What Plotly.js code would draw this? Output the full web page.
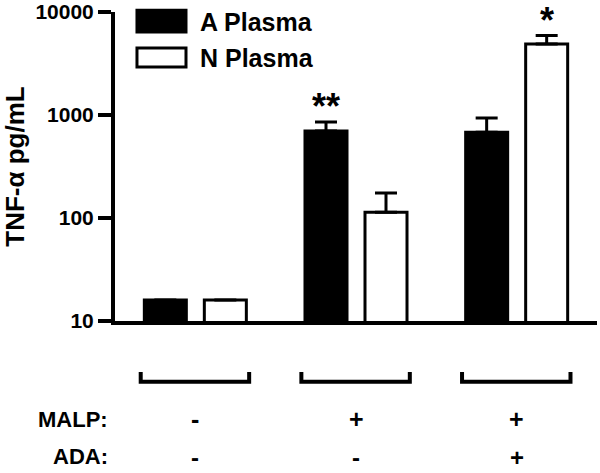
<!DOCTYPE html>
<html>
<head>
<meta charset="utf-8">
<script src="https://cdn.plot.ly/plotly-3.0.1.min.js"></script>
<style>
  html, body { margin: 0; padding: 0; background: #fff; }
  #chart { width: 600px; height: 473px; }
</style>
</head>
<body>
<div id="chart"></div>
<script>
// group index on x, one bar pair per condition
const groups = [0, 1, 2];
const malpLabels = ["-", "+", "+"];
const adaLabels = ["-", "-", "+"];

const seriesNames = ["A Plasma", "N Plasma"];
const aPlasma = [16, 700, 680];
const aPlasmaErr = [null, 155, 255];
const nPlasma = [16, 114, 4900];
const nPlasmaErr = [null, 61, 1000];

// significance marks: [series index, group index, text]
const stars = [
  [0, 1, "**"],
  [1, 2, "*"],
];

const yTickVals = [10, 100, 1000, 10000];
const yTickText = ["10", "100", "1000", "10000"];

const FONT = "Liberation Sans, Arial, Helvetica, sans-serif";
const BARGAP = 0.253;
const BARGROUPGAP = 0.30;
const half = (1 - BARGAP) / 4; // centre offset of each bar in a group

const bold = (size) => ({ family: FONT, size, color: "#000", weight: "bold" });

const errStyle = (arr) => ({
  type: "data",
  symmetric: false,
  array: arr,
  arrayminus: arr.map(() => 0),
  color: "#000",
  thickness: 3,
  width: 11,
});

const traces = [
  {
    x: groups, y: aPlasma, type: "bar", name: seriesNames[0],
    marker: { color: "#000", line: { color: "#000", width: 3 } },
    error_y: errStyle(aPlasmaErr),
  },
  {
    x: groups, y: nPlasma, type: "bar", name: seriesNames[1],
    marker: { color: "#fff", line: { color: "#000", width: 3 } },
    error_y: errStyle(nPlasmaErr),
  },
];

const annotations = [];
const shapes = [];

// asterisks above error caps
const vals = [aPlasma, nPlasma];
const errs = [aPlasmaErr, nPlasmaErr];
stars.forEach(([s, g, txt]) => {
  annotations.push({
    x: groups[g] + (s === 0 ? -half : half),
    y: Math.log10(vals[s][g] + (errs[s][g] || 0)),
    xref: "x", yref: "y", text: txt, showarrow: false,
    yanchor: "bottom", yshift: -7, font: bold(36),
  });
});

// brackets and +/- rows under each group
groups.forEach((g, i) => {
  shapes.push({
    type: "path", xref: "x", yref: "paper",
    path: `M ${g - 0.34},-0.165 L ${g - 0.34},-0.197 L ${g + 0.335},-0.197 L ${g + 0.335},-0.165`,
    line: { color: "#000", width: 4 },
  });
  annotations.push({
    x: g, y: -0.318, xref: "x", yref: "paper", text: malpLabels[i],
    yanchor: "middle", showarrow: false, font: bold(25),
  });
  annotations.push({
    x: g, y: -0.442, xref: "x", yref: "paper", text: adaLabels[i],
    yanchor: "middle", showarrow: false, font: bold(24),
  });
});

annotations.push(
  { x: -0.01, y: -0.318, xref: "paper", yref: "paper", text: "MALP:",
    xanchor: "right", yanchor: "middle", showarrow: false, font: bold(22) },
  { x: -0.01, y: -0.44, xref: "paper", yref: "paper", text: "ADA:",
    xanchor: "right", yanchor: "middle", showarrow: false, font: bold(22) },
);

// hand-drawn legend with wide swatches
const legendRows = [
  { fill: "#000", y0: 0.935, y1: 1.006, ty: 0.968 },
  { fill: "#fff", y0: 0.822, y1: 0.8835, ty: 0.85 },
];
legendRows.forEach((r, i) => {
  shapes.push({
    type: "rect", xref: "paper", yref: "paper",
    x0: 0.0456, x1: 0.1473, y0: r.y0, y1: r.y1,
    fillcolor: r.fill, line: { color: "#000", width: 3 },
  });
  annotations.push({
    x: 0.172, y: r.ty, xref: "paper", yref: "paper", text: seriesNames[i],
    xanchor: "left", yanchor: "middle", showarrow: false, font: bold(25),
  });
});

const layout = {
  width: 600, height: 473,
  paper_bgcolor: "#fff", plot_bgcolor: "#fff",
  margin: { t: 12, r: 3, b: 152, l: 115 },
  barmode: "group", bargap: BARGAP, bargroupgap: BARGROUPGAP,
  showlegend: false,
  font: bold(20),
  xaxis: {
    range: [-0.5, 2.5],
    showline: true, linecolor: "#000", linewidth: 4,
    showticklabels: false, ticks: "", showgrid: false, zeroline: false,
  },
  yaxis: {
    type: "log", range: [1, 4],
    tickvals: yTickVals, ticktext: yTickText,
    showline: true, linecolor: "#000", linewidth: 4,
    ticks: "outside", ticklen: 13, tickwidth: 4, tickcolor: "#000",
    tickfont: bold(21), showgrid: false, zeroline: false,
    title: { text: "TNF-α pg/mL", font: bold(26), standoff: 12 },
  },
  shapes, annotations,
};

Plotly.newPlot("chart", traces, layout, { displayModeBar: false, staticPlot: true });
</script>
</body>
</html>
